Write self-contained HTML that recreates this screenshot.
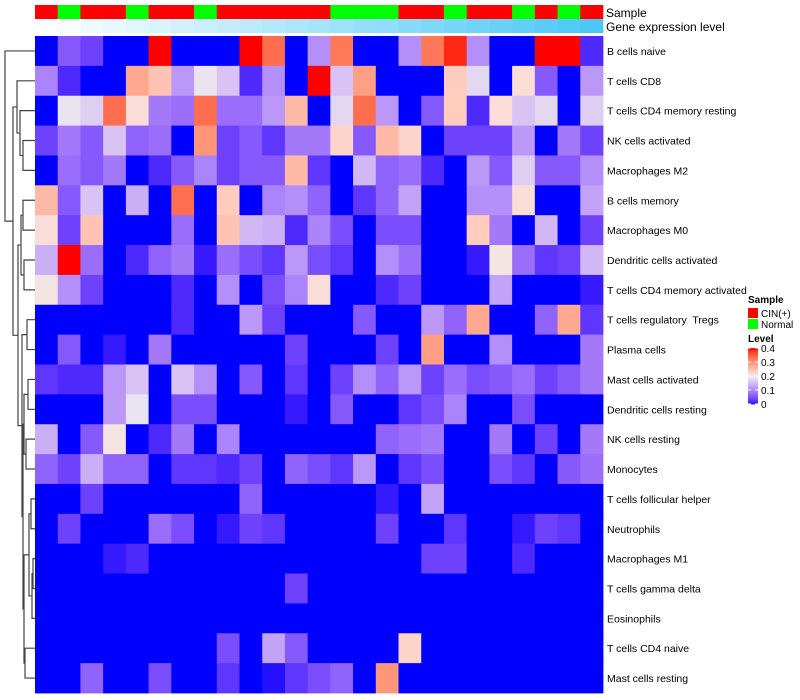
<!DOCTYPE html>
<html><head><meta charset="utf-8"><style>
body{margin:0;background:#fff;}
svg{display:block;font-family:"Liberation Sans",sans-serif;}
text{white-space:pre;}
</style></head><body>
<svg id="chart" width="800" height="700"></svg>
<script>
const rowLabels=["B cells naive","T cells CD8","T cells CD4 memory resting","NK cells activated","Macrophages M2","B cells memory","Macrophages M0","Dendritic cells activated","T cells CD4 memory activated","T cells regulatory  Tregs","Plasma cells","Mast cells activated","Dendritic cells resting","NK cells resting","Monocytes","T cells follicular helper","Neutrophils","Macrophages M1","T cells gamma delta","Eosinophils","T cells CD4 naive","Mast cells resting"];
const sampleGroups=["C","N","C","C","N","C","C","N","C","C","C","C","C","N","N","N","C","C","N","C","C","N","C","N","C"];
const v0=[0,.06,.04,0,0,.4,0,0,0,.4,.34,0,.11,.33,0,0,.11,.33,.39,.11,0,0,.4,.4,.02];
const v1=[.1,.02,0,0,.28,.25,.12,.19,.16,.02,.11,0,.4,.16,.29,0,0,0,.24,.18,0,.22,.06,0,.12];
const v2=[0,.19,.17,.34,.22,.09,.08,.34,.08,.08,.12,.26,0,.18,.34,.12,0,.06,.24,.02,.22,.16,.18,0,.17];
const v3=[.04,.09,.06,.16,.07,.08,0,.3,.04,.06,.03,.09,.09,.23,.06,.26,.23,0,.04,.04,.04,.12,0,.09,.04];
const v4=[0,.08,.06,.09,0,.02,.06,.1,.04,.06,.06,.26,.03,0,.15,.07,.08,.02,0,.12,.06,.17,.06,.06,.11];
const v5=[.26,.06,.16,0,.14,0,.34,0,.24,0,.1,.11,.07,0,.03,.07,.13,0,0,.11,.11,.22,0,0,.13];
const v6=[.22,.04,.25,0,0,0,.08,0,.25,.15,.14,.02,.1,.05,0,.05,.05,0,0,.24,.09,0,.15,0,.04];
const v7=[.14,.4,.08,0,.02,.07,.09,.01,.08,.05,.03,.12,.05,.03,0,.11,.08,0,0,.01,.21,.08,.03,.04,.15];
const v8=[.21,.11,.04,0,0,0,.02,0,.11,0,.05,.1,.22,0,0,.02,.04,0,0,0,.13,0,0,0,.01];
const v9=[0,0,0,0,0,0,.02,0,0,.12,.04,0,0,0,.06,0,0,.12,.07,.28,0,0,.07,.28,.03];
const v10=[0,.06,0,.01,0,.09,0,0,0,0,0,.04,0,0,0,.04,0,.29,0,0,.11,0,0,0,.09];
const v11=[.03,.02,.02,.12,.16,0,.16,.11,0,.06,0,.03,0,.04,.11,.07,.12,.04,.08,.05,.06,.08,.04,.06,.09];
const v12=[0,0,0,.12,.19,0,.05,.05,0,0,0,.01,0,.06,0,0,.03,.05,.1,0,0,.05,0,0,0];
const v13=[.14,0,.06,.21,0,.02,.09,0,.1,0,0,0,0,0,0,.07,.08,.09,0,0,.09,0,.04,0,.09];
const v14=[.07,.04,.14,.07,.07,0,.03,.03,.02,.04,0,.07,.05,.03,.12,0,.03,.05,0,0,.05,.03,0,.06,.08];
const v15=[0,0,.04,0,0,0,0,0,0,.07,0,0,0,0,0,.01,0,.13,0,0,0,0,0,0,0];
const v16=[0,.04,0,0,0,.08,.05,0,.01,.04,.03,0,0,0,0,.04,0,0,.03,0,0,.01,.04,.03,0];
const v17=[0,0,0,.01,.02,0,0,0,0,0,0,0,0,0,0,0,0,.04,.04,0,0,.02,0,0,0];
const v18=[0,0,0,0,0,0,0,0,0,0,0,.04,0,0,0,0,0,0,0,0,0,0,0,0,0];
const v19=[0,0,0,0,0,0,0,0,0,0,0,0,0,0,0,0,0,0,0,0,0,0,0,0,0];
const v20=[0,0,0,0,0,0,0,0,.05,0,.13,.06,0,0,0,0,.23,0,0,0,0,0,0,0,0];
const v21=[0,0,.07,0,0,.05,0,0,.03,0,.005,.03,.05,.07,0,.3,0,0,0,0,0,0,0,0,0];
const values=[v0,v1,v2,v3,v4,v5,v6,v7,v8,v9,v10,v11,v12,v13,v14,v15,v16,v17,v18,v19,v20,v21];
const legendTicks=[0,0.1,0.2,0.3,0.4];

const NS="http://www.w3.org/2000/svg";
const svg=document.getElementById('chart');
function mk(t,a,p){const e=document.createElementNS(NS,t);for(const k in a)e.setAttribute(k,a[k]);(p||svg).appendChild(e);return e;}
function s2l(c){c/=255;return c<=0.04045?c/12.92:Math.pow((c+0.055)/1.055,2.4);}
function l2s(c){c=c<=0.0031308?12.92*c:1.055*Math.pow(c,1/2.4)-0.055;return Math.round(Math.max(0,Math.min(1,c))*255);}
function toLab(rgb){const [r,g,b]=rgb.map(s2l);let x=(0.4124*r+0.3576*g+0.1805*b)/0.95047,y=0.2126*r+0.7152*g+0.0722*b,z=(0.0193*r+0.1192*g+0.9505*b)/1.08883;
const f=t=>t>0.008856?Math.cbrt(t):7.787*t+16/116;const fx=f(x),fy=f(y),fz=f(z);return [116*fy-16,500*(fx-fy),200*(fy-fz)];}
function fromLab(l){const fy=(l[0]+16)/116,fx=fy+l[1]/500,fz=fy-l[2]/200;const g=t=>t*t*t>0.008856?t*t*t:(t-16/116)/7.787;
const x=g(fx)*0.95047,y=g(fy),z=g(fz)*1.08883;
const r=3.2406*x-1.5372*y-0.4986*z,gg=-0.9689*x+1.8758*y+0.0415*z,b=0.0557*x-0.2040*y+1.0570*z;return `rgb(${l2s(r)},${l2s(gg)},${l2s(b)})`;}
const BL=toLab([0,0,255]),WH=toLab([240,238,238]),RD=toLab([255,0,0]);
function col(v){v=Math.max(0,Math.min(0.4,v));let a,b,t;if(v<=0.2){a=BL;b=WH;t=v/0.2;}else{a=WH;b=RD;t=(v-0.2)/0.2;}
return fromLab([0,1,2].map(i=>a[i]+(b[i]-a[i])*t));}

const X0=35,X1=603,Y0=36,Y1=693;
const nC=25,nR=rowLabels.length;
const cw=(X1-X0)/nC,rh=(Y1-Y0)/nR;
const xs=j=>X0+j*cw, ys=i=>Y0+i*rh;

sampleGroups.forEach((g,j)=>{
  const r=mk('rect',{x:xs(j),y:5,width:cw+0.3,height:14,fill:g==="C"?"#ff0000":"#00ff00"});
  
  
  const t=j/(nC-1);
  const c=`rgb(${Math.round(255-180*t)},${Math.round(255-55*t)},${Math.round(255-10*t)})`;
  const r2=mk('rect',{x:xs(j),y:19,width:cw+0.3,height:14,fill:c});
  
  
});
const t1=mk('text',{x:606,y:17,'font-size':12});t1.textContent="Sample";

const t2=mk('text',{x:606,y:31,'font-size':12});t2.textContent="Gene expression level";


values.forEach((row,i)=>{
  row.forEach((v,j)=>{
    const r=mk('rect',{x:xs(j),y:ys(i),width:cw+0.4,height:rh+0.4,fill:col(v)});
    
    
  });
  const t=mk('text',{x:607,y:ys(i)+rh/2+4,'font-size':10.5});
  t.textContent=rowLabels[i];
  
  
});

const dg=mk('g',{stroke:'#444','stroke-width':1.2,fill:'none'});


const cy=i=>ys(i)+rh/2;
function node(yv,x){return {y:yv,x:x};}
function join(a,b,x){mk('path',{d:`M${a.x},${a.y}H${x}V${b.y}H${b.x}`},dg);return node((a.y+b.y)/2,x);}
const leaf=i=>node(cy(i),35);
let n34=join(leaf(3),leaf(4),23);
let n2=join(leaf(2),n34,20);
let n1=join(leaf(1),n2,17);
let n56=join(leaf(5),leaf(6),23);
let n78=join(leaf(7),leaf(8),24);
let n58=join(n56,n78,21);
let n9=join(leaf(9),leaf(10),27);
let n1112=join(leaf(11),leaf(12),28);
let n1314=join(leaf(13),leaf(14),26);
let nA=join(n1112,n1314,24);
let n2021=join(leaf(20),leaf(21),25);
let n1516=join(leaf(15),leaf(16),31);
let n1718=join(leaf(17),leaf(18),33);
let n19=join(n1718,leaf(19),32);
let nB=join(n1516,n19,29);
let nC2=join(nB,n2021,24);
let nD=join(nA,nC2,23);
let nE=join(n9,nD,22);
let nF=join(n58,nE,18);
let nG=join(n1,nF,13);
join(leaf(0),nG,5);

const lg=mk('g',{});


const lt=mk('text',{x:748,y:303,'font-size':10,'font-weight':'bold'},lg);lt.textContent="Sample";
[["CIN(+)","#ff0000",308],["Normal","#00ff00",319]].forEach(([n,c,y])=>{
  const r=mk('rect',{x:748,y:y,width:10,height:10,fill:c},lg);
  
  const t=mk('text',{x:761,y:y+9,'font-size':10},lg);t.textContent=n;
  
});
const lv=mk('text',{x:748,y:342,'font-size':10,'font-weight':'bold'},lg);lv.textContent="Level";
const gb0=348,gb1=404;
for(let k=0;k<40;k++){const v=0.4-0.4*k/40;mk('rect',{x:748,y:gb0+(gb1-gb0)*k/40,width:10,height:(gb1-gb0)/40+0.5,fill:col(v)},lg);}
legendTicks.forEach(v=>{
  const y=gb1-(gb1-gb0)*v/0.4;
  mk('line',{x1:748,x2:751,y1:y,y2:y,stroke:'#fff','stroke-width':1},lg);
  mk('line',{x1:755,x2:758,y1:y,y2:y,stroke:'#fff','stroke-width':1},lg);
  const t=mk('text',{x:761,y:y+4,'font-size':10},lg);t.textContent=String(v);
  
});
</script>
</body></html>
